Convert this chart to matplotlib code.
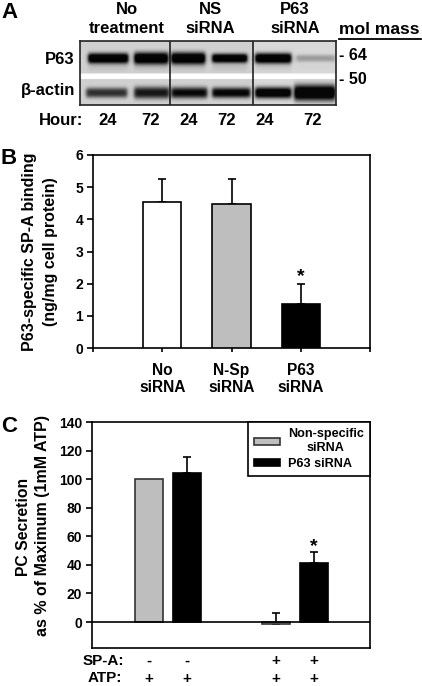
import numpy as np
from matplotlib import pyplot as plt
from matplotlib.lines import Line2D

plt.rcParams['font.family'] = ['Liberation Sans', 'DejaVu Sans']
plt.rcParams['font.weight'] = 'bold'

W, H = 422, 686

# panel A
hours = ["24", "72", "24", "72", "24", "72"]
treatments = ["No\ntreatment", "NS\nsiRNA", "P63\nsiRNA"]
p63_lanes = [(8, 48), (54, 88), (91, 125), (132, 167), (175, 211), (216, 255)]
p63_dark = [1.0, 1.0, 1.0, 1.0, 1.0, 0.22]
p63_thick = [5.2, 6.0, 6.0, 4.6, 5.2, 3.6]
actin_lanes = [(6, 47), (54, 89), (91, 127), (132, 170), (175, 211), (214, 255)]
actin_dark = [0.62, 0.72, 0.78, 0.82, 0.95, 1.0]
actin_thick = [5.0, 6.0, 5.6, 5.2, 5.6, 8.0]

# panel B
b_labels = ["No\nsiRNA", "N-Sp\nsiRNA", "P63\nsiRNA"]
b_values = [4.55, 4.48, 1.38]
b_errors = [0.70, 0.77, 0.60]
b_colors = ["white", "#bebebe", "black"]

# panel C
c_nonspecific = [100, -1.5]
c_nonspecific_err = [0, 8]
c_p63 = [104, 41.5]
c_p63_err = [11.5, 7.5]
sp_a = [["-", "-"], ["+", "+"]]
atp = [["+", "+"], ["+", "+"]]


def px_axes(left, top, right, bottom):
    return fig.add_axes([left / W, 1 - bottom / H, (right - left) / W, (bottom - top) / H])


def txt(x, y, s, size=12, ha="center", **kw):
    fig.text(x / W, 1 - y / H, s, fontsize=size, ha=ha, va="center", **kw)


def lane_bands(img, yy, xx, centre, lanes, dark, thick, smear=0.0):
    for (a, b), d, t in zip(lanes, dark, thick):
        across = 0.5 * (np.tanh((xx - a) / 2.0) - np.tanh((xx - b) / 2.0))
        band = np.exp(-np.abs((yy - centre) / t) ** 2.6)
        tail = smear * np.exp(-((yy - centre - 8) / 5.0) ** 2)
        img[:] = img * (1 - np.clip(d * band * across * 1.25, 0, 0.97)) - tail * across * d


def draw_blot():
    ax = px_axes(80, 41, 336, 105)
    yy, xx = np.mgrid[0:64:0.5, 0:256:0.5]
    img = np.full(yy.shape, 0.82)
    img[:, 173 * 2:] = 0.85
    lane_bands(img, yy, xx, 17, p63_lanes, p63_dark, p63_thick, smear=0.07)
    lane_bands(img, yy, xx, 51.5, actin_lanes, actin_dark, actin_thick)
    img[(yy > 32) & (yy < 38)] = 1.0
    ax.imshow(np.clip(img, 0, 1), cmap="gray", vmin=0, vmax=1, extent=(0, 256, 64, 0), aspect="auto")
    for x in [89.5, 173]:
        ax.axvline(x, color="#111111", lw=1.1)
    ax.set_xticks([])
    ax.set_yticks([])
    for s in ax.spines.values():
        s.set_linewidth(1.2)
        s.set_color("#222222")


def draw_b():
    ax = px_axes(93, 155, 370, 348)
    x = np.arange(1, 4)
    ax.bar(x, b_values, width=0.55, color=b_colors, edgecolor="black", linewidth=1.2, zorder=3)
    ax.errorbar(x, b_values, yerr=[np.zeros(3), b_errors], fmt="none", ecolor="black",
                elinewidth=1.2, capsize=3, capthick=1.2, zorder=2)
    ax.set_xlim(0, 4)
    ax.set_ylim(0, 6)
    ax.set_xticks(np.arange(0, 5))
    ax.set_xticklabels([""] * 5)
    ax.tick_params(axis="x", length=3, width=1.2)
    ax.tick_params(axis="y", length=4, width=1.2, labelsize=10, pad=3)
    for s in ax.spines.values():
        s.set_linewidth(1.2)
    for xi, lab in zip(x, b_labels):
        ax.annotate(lab, (xi, 0), xytext=(0, -31), xycoords="data", textcoords="offset pixels",
                    ha="center", va="center", fontsize=11.2, linespacing=1.2)
    ax.text(3, b_values[2] + b_errors[2] - 0.02, "*", ha="center", va="bottom", fontsize=14)


def draw_c():
    ax = px_axes(92, 422, 370, 648)
    groups = np.arange(2)
    off = 0.15
    b1 = ax.bar(groups - off, c_nonspecific, width=0.22, color="#bebebe", edgecolor="#333333",
                linewidth=1.2, zorder=3, label="Non-specific\nsiRNA")
    b2 = ax.bar(groups + off, c_p63, width=0.22, color="black", edgecolor="black",
                linewidth=1.2, zorder=3, label="P63 siRNA")
    ax.errorbar(groups[1:] - off, c_nonspecific[1:], yerr=[[0], c_nonspecific_err[1:]], fmt="none",
                ecolor="black", elinewidth=1.2, capsize=3, capthick=1.2, zorder=2)
    ax.errorbar(groups + off, c_p63, yerr=[[0, 0], c_p63_err], fmt="none",
                ecolor="black", elinewidth=1.2, capsize=3, capthick=1.2, zorder=2)
    ax.axhline(0, color="black", lw=1.2, zorder=4)
    ax.set_xlim(-0.6, 1.595)
    ax.set_ylim(-18.2, 140)
    ax.set_xticks([])
    ax.set_yticks(np.arange(0, 141, 20))
    ax.tick_params(axis="y", length=4, width=1.2, labelsize=10, pad=3)
    for s in ax.spines.values():
        s.set_linewidth(1.2)
    ax.text(1 + off, c_p63[1] + c_p63_err[1] - 2, "*", ha="center", va="bottom", fontsize=14)

    trans = ax.get_xaxis_transform()
    for g in groups:
        for j, sign_off in enumerate([-off, off]):
            ax.text(g + sign_off, -0.058, sp_a[g][j], transform=trans, ha="center", va="center", fontsize=11)
            ax.text(g + sign_off, -0.135, atp[g][j], transform=trans, ha="center", va="center", fontsize=11)

    leg = ax.legend(handles=[b1, b2], loc="upper right", bbox_to_anchor=(1.0, 1.0), fontsize=9.1,
                    frameon=True, fancybox=False, edgecolor="black", framealpha=1, borderaxespad=0,
                    handlelength=2.0, handleheight=0.45, handletextpad=0.65, labelspacing=0.3,
                    borderpad=0.5)
    leg.get_frame().set_linewidth(1.2)
    leg.set_zorder(6)
    leg.get_texts()[0].set_multialignment("center")


fig = plt.figure(figsize=(W / 100, H / 100), dpi=100, facecolor="white")

# A
txt(9, 12, "A", size=16)
for cx, lab in zip([127, 210, 295], treatments):
    txt(cx, 19, lab, size=12, linespacing=1.3)
draw_blot()
txt(75, 59, "P63", ha="right")
txt(75, 91, "β-actin", ha="right")
txt(339, 30, "mol mass", ha="left", size=12.6)
fig.add_artist(Line2D([339 / W, 421 / W], [1 - 39 / H] * 2, color="black", lw=1.3))
txt(339, 55, "- 64", ha="left", size=11.5)
txt(339, 80, "- 50", ha="left", size=11.5)
txt(39, 120.5, "Hour:", ha="left")
for cx, h in zip([108, 151, 189, 227, 265, 313], hours):
    txt(cx, 120.5, h)

# B
txt(9, 158, "B", size=16)
txt(30, 252, "P63-specific SP-A binding", size=11.5, rotation=90)
txt(51, 252, "(ng/mg cell protein)", size=11.5, rotation=90)
draw_b()

# C
txt(9, 427, "C", size=16)
txt(24, 527, "PC Secretion", size=11.3, rotation=90)
txt(43, 526, "as % of Maximum (1mM ATP)", size=11.5, rotation=90)
draw_c()
txt(124, 661, "SP-A:", ha="right", size=11)
txt(122, 678.5, "ATP:", ha="right", size=11)

plt.savefig("out.png", dpi=100)
